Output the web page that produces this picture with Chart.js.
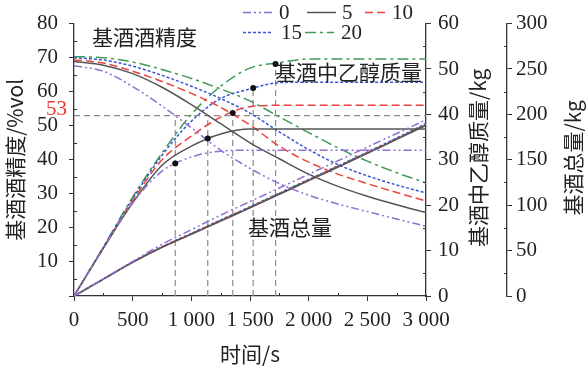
<!DOCTYPE html>
<html><head><meta charset="utf-8">
<script src="https://cdn.jsdelivr.net/npm/chart.js@4.4.1/dist/chart.umd.min.js"></script>
<style>html,body{margin:0;padding:0;background:#fff}#wrap{width:588px;height:369px;position:relative}</style>
</head><body><div id="wrap"><canvas id="c" width="588" height="369"></canvas></div>
<script>
// ---- data ----
const times = [0,250,500,750,1000,1250,1500,1750,2000,2250,2500,2750,3000];
const seriesLabels = ['0','5','10','15','20'];
// alcohol content of base liquor, %vol (left axis)
const alcohol0  = [67.6,66.0,61.5,55.8,49.4,42.8,37.5,33.0,29.6,27.0,24.8,22.6,20.5];
const alcohol5  = [68.9,67.8,65.3,61.3,56.2,50.6,45.0,40.3,35.8,32.2,29.3,26.8,24.5];
const alcohol10 = [69.4,68.4,66.0,63.0,59.5,55.4,50.2,44.0,39.3,35.8,33.0,30.4,27.9];
const alcohol15 = [70.0,69.3,67.5,64.8,61.6,58.0,53.7,48.2,43.0,38.6,35.3,32.6,30.3];
const alcohol20 = [70.3,70.0,68.7,66.5,63.9,60.8,57.3,52.6,48.0,43.5,39.6,36.2,33.2];
// ethanol mass in base liquor, kg (right axis 1)
const ethanol0  = [0,10.5,20.5,27.5,30.6,31.9,32.1,32.1,32.1,32.1,32.1,32.1,32.1];
const ethanol5  = [0,10.5,20.5,28.8,33.0,35.7,36.8,36.8,36.8,36.8,36.8,36.8,36.8];
const ethanol10 = [0,10.6,21.0,30.0,35.2,39.4,41.7,42.0,42.0,42.0,42.0,42.0,42.0];
const ethanol15 = [0,10.7,21.4,31.0,38.5,43.5,45.6,47.0,47.1,47.1,47.1,47.1,47.1];
const ethanol20 = [0,10.8,21.8,31.5,40.0,46.2,50.2,51.4,52.2,52.2,52.2,52.2,52.2];
// total base liquor mass, kg (right axis 2)
const total0  = [0,19.0,38.0,57.0,73.0,89.0,104.0,119.0,134.0,149.0,164.0,179.0,194.0];
const total5  = [0,18.5,37.0,53.5,68.0,82.5,97.0,112.0,127.0,142.0,157.0,172.5,188.0];
const total10 = [0,18.6,37.2,53.8,68.4,83.0,97.5,112.5,127.5,142.5,157.5,173.0,188.5];
const total15 = [0,18.7,37.5,54.2,69.0,83.8,98.3,113.3,128.3,143.3,158.5,174.0,190.0];
const total20 = [0,18.6,37.3,54.0,68.6,83.3,98.0,113.0,128.0,143.0,158.0,173.5,189.0];
// times at which alcohol content reaches 53 %vol, and ethanol mass there
const cutAlcohol = 53;
const cutTimes = [863,1140,1353,1527,1718];
const cutEthanol = [29.2,34.7,40.3,45.8,51.1];
// tick labels / axis ranges
const xTicks = [0,500,1000,1500,2000,2500,3000];
const annotations = ['基酒酒精度','基酒中乙醇质量','基酒总量'];
const axisTitles = ['时间/s','基酒酒精度/%vol','基酒中乙醇质量/kg','基酒总量/kg'];

// ---- styles ----
const colors = ['#8f6fd0','#555555','#e8453c','#3c54d4','#3f9a55'];
const dashes = [[8,3,2,3,2,3],[],[8,4],[3,2],[11,4,3,4]];
const SERIF = '"Times New Roman", "Liberation Serif", Times, "DejaVu Serif", serif';
const CJK = '"Noto Sans CJK SC", "Times New Roman", "Liberation Serif", serif';

const alc = [alcohol0,alcohol5,alcohol10,alcohol15,alcohol20];
const eth = [ethanol0,ethanol5,ethanol10,ethanol15,ethanol20];
const tot = [total0,total5,total10,total15,total20];
const pts = arr => times.map((t,i)=>({x:t,y:arr[i]}));

const datasets = [];
// dots
datasets.push({type:'line', label:'dots', yAxisID:'y1', order:0, showLine:false,
  data: cutTimes.map((t,i)=>({x:t,y:cutEthanol[i]})),
  pointRadius:3, pointBackgroundColor:'#111', pointBorderColor:'#111', borderWidth:0});
for (let i=0;i<5;i++){
  const base = {borderColor:colors[i], borderDash:dashes[i], borderWidth:1.5, pointRadius:0,
    cubicInterpolationMode:'monotone', fill:false, order:1, label:seriesLabels[i]};
  datasets.push(Object.assign({}, base, {yAxisID:'y', data:pts(alc[i])}));
  datasets.push(Object.assign({}, base, {yAxisID:'y1', data:pts(eth[i])}));
  datasets.push(Object.assign({}, base, {yAxisID:'y2', data:pts(tot[i])}));
}
// reference lines
const refStyle = {borderColor:'#8a8a8a', borderDash:[6,4], borderWidth:1.2, pointRadius:0, order:2, label:'ref'};
datasets.push(Object.assign({}, refStyle, {yAxisID:'y', data:[{x:0,y:cutAlcohol},{x:3000,y:cutAlcohol}]}));
cutTimes.forEach((t,i)=>{
  const top = Math.max(cutAlcohol*60/80, cutEthanol[i]);
  datasets.push(Object.assign({}, refStyle, {yAxisID:'y1', data:[{x:t,y:0},{x:t,y:top}]}));
});

const axisColor = '#333';
function fixWidth(w){ return function(s){ s.width = w; }; }
function fixHeight(h){ return function(s){ s.height = h; }; }

const extras = {
  id:'extras',
  afterDraw(chart){
    const ctx = chart.ctx, a = chart.chartArea;
    const sx = chart.scales.x, sy = chart.scales.y, sy1 = chart.scales.y1, sy2 = chart.scales.y2;
    ctx.save();
    // minor ticks (inward)
    ctx.strokeStyle = axisColor; ctx.lineWidth = 1;
    ctx.beginPath();
    for (let v=250; v<3000; v+=500){ const px=Math.round(sx.getPixelForValue(v))+0.5; ctx.moveTo(px,a.bottom); ctx.lineTo(px,a.bottom-3); }
    for (let v=5; v<80; v+=10){ const py=Math.round(sy.getPixelForValue(v))+0.5; ctx.moveTo(a.left,py); ctx.lineTo(a.left+3,py); }
    for (let v=5; v<60; v+=10){ const py=Math.round(sy1.getPixelForValue(v))+0.5; ctx.moveTo(sy1.left,py); ctx.lineTo(sy1.left-3,py); }
    for (let v=25; v<300; v+=50){ const py=Math.round(sy2.getPixelForValue(v))+0.5; ctx.moveTo(sy2.left,py); ctx.lineTo(sy2.left-3,py); }
    ctx.stroke();
    // right axis titles (reading bottom-to-top)
    ctx.fillStyle = '#222';
    ctx.font = '21px ' + CJK;
    ctx.textAlign = 'center'; ctx.textBaseline = 'middle';
    const cy = (a.top + a.bottom)/2;
    [[478, axisTitles[2]],[573, axisTitles[3]]].forEach(([x,txt])=>{
      ctx.save(); ctx.translate(x, cy-2); ctx.rotate(-Math.PI/2); ctx.fillText(txt,0,0); ctx.restore();
    });
    // annotations
    ctx.textAlign = 'left';
    ctx.fillText(annotations[0], 92, 37);
    ctx.fillText(annotations[1], 275, 72);
    ctx.fillText(annotations[2], 248, 227);
    // 53 label
    ctx.fillStyle = '#e5392f';
    ctx.font = '21px ' + SERIF;
    ctx.textAlign = 'right';
    ctx.fillText(String(cutAlcohol), 67, sy.getPixelForValue(cutAlcohol) - 6);
    // legend
    const items = [[243,272,279,12],[307,336,342,12],[365,388,392,12],[243,273,281,32],[305,334,341,32]];
    ctx.textAlign = 'left';
    items.forEach(([x0,x1,tx,y],i)=>{
      ctx.strokeStyle = colors[i]; ctx.lineWidth = 1.5; ctx.setLineDash(dashes[i]);
      ctx.beginPath(); ctx.moveTo(x0,y+0.5); ctx.lineTo(x1,y+0.5); ctx.stroke();
      ctx.setLineDash([]);
      ctx.fillStyle = '#222'; ctx.font = '21px ' + SERIF;
      ctx.fillText(seriesLabels[i], tx, y+1);
    });
    ctx.restore();
  }
};

const fmt = v => v >= 1000 ? Math.floor(v/1000) + ' ' + String(v%1000).padStart(3,'0') : String(v);

new Chart(document.getElementById('c'), {
  type:'line',
  data:{datasets},
  options:{
    responsive:false, animation:false, devicePixelRatio:1,
    layout:{padding:{top:21,left:0,right:0,bottom:0}},
    plugins:{legend:{display:false}, tooltip:{enabled:false}},
    scales:{
      x:{type:'linear', min:0, max:3000, afterFit:fixHeight(73),
        afterBuildTicks:s=>{ s.ticks = xTicks.map(v=>({value:v})); },
        ticks:{callback:fmt, color:'#222', font:{family:SERIF,size:21}, padding:7, maxRotation:0, autoSkip:false},
        grid:{drawOnChartArea:false, drawTicks:true, tickLength:5, color:axisColor, lineWidth:1},
        border:{color:axisColor, width:1.3},
        title:{display:true, text:axisTitles[0], color:'#222', font:{family:CJK,size:21}, padding:{top:0,bottom:2}}},
      y:{position:'left', min:0, max:80, afterFit:fixWidth(74),
        ticks:{stepSize:10, callback:v=>v===0?'':v, color:'#222', font:{family:SERIF,size:21}, padding:11},
        grid:{drawOnChartArea:false, drawTicks:true, tickLength:5, color:axisColor},
        border:{color:axisColor, width:1.3},
        title:{display:true, text:axisTitles[1], color:'#222', font:{family:CJK,size:21}, padding:{top:2,bottom:0}}},
      y1:{position:'right', min:0, max:60, afterFit:fixWidth(81),
        ticks:{stepSize:10, color:'#222', font:{family:SERIF,size:21}, padding:7},
        grid:{drawOnChartArea:false, drawTicks:true, tickLength:5, color:axisColor},
        border:{color:axisColor, width:1.3}},
      y2:{position:'right', min:0, max:300, afterFit:fixWidth(81),
        ticks:{stepSize:50, color:'#222', font:{family:SERIF,size:21}, padding:4},
        grid:{drawOnChartArea:false, drawTicks:true, tickLength:5, color:axisColor},
        border:{color:axisColor, width:1.3}}
    }
  },
  plugins:[extras]
});
</script></body></html>
